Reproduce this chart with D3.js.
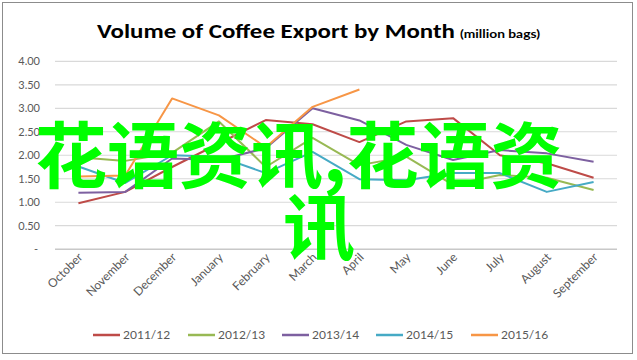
<!DOCTYPE html>
<html>
<head>
<meta charset="utf-8">
<script src="https://cdn.jsdelivr.net/npm/d3@7"></script>
<style>
  html, body { margin: 0; padding: 0; background: #fff; }
  svg { display: block; }
</style>
</head>
<body>
<svg id="chart" width="637" height="360"></svg>
<script>
const months = ["October","November","December","January","February","March","April","May","June","July","August","September"];
const seriesNames = ["2011/12","2012/13","2013/14","2014/15","2015/16"];
const s2011 = [0.98,1.22,1.75,2.25,2.75,2.66,2.28,2.72,2.79,2.00,1.83,1.52];
const s2012 = [1.96,1.88,2.05,2.72,1.75,2.37,1.79,1.97,1.37,1.58,1.52,1.26];
const s2013 = [1.20,1.22,1.93,1.90,2.15,3.00,2.74,2.22,1.90,2.11,2.04,1.86];
const s2014 = [1.76,1.41,2.00,1.97,1.62,2.07,1.49,1.47,1.62,1.62,1.22,1.43];
const s2015 = [1.55,1.57,3.21,2.85,2.17,3.03,3.40,null,null,null,null,null];
const yTicks = [0,0.5,1,1.5,2,2.5,3,3.5,4];
const colors = ["#BE4B48","#98B954","#7D60A0","#46AAC5","#F79646"];
const allSeries = [s2011,s2012,s2013,s2014,s2015];

const svg = d3.select("#chart");
const font = "Lato, 'Open Sans', sans-serif";

// outer border
svg.append("rect").attr("x",2.5).attr("y",2.5).attr("width",630).attr("height",351)
  .attr("fill","#fff").attr("stroke","#8c8c8c").attr("stroke-width",1);

// title
const title = svg.append("text").attr("x",97).attr("y",38)
  .attr("font-family","Calibri, Lato, sans-serif").attr("font-weight","bold")
  .attr("font-size",21).attr("fill","#000");
title.append("tspan").text("Volume of Coffee Export by Month")
  .attr("textLength",358).attr("lengthAdjust","spacingAndGlyphs");
svg.append("text").attr("x",460).attr("y",38)
  .attr("font-family",font).attr("font-weight","bold").attr("font-size",10.5)
  .attr("fill","#000").text("(million bags)")
  .attr("textLength",80).attr("lengthAdjust","spacingAndGlyphs");

const x = d3.scalePoint().domain(months).range([55,617]).padding(0.5);
const y = d3.scaleLinear().domain([0,4]).range([249.2,61.3]);

// gridlines
svg.append("g").selectAll("line").data(yTicks).join("line")
  .attr("x1",55).attr("x2",617)
  .attr("y1",d=>y(d)).attr("y2",d=>y(d))
  .attr("stroke", d => d===0 ? "#c8c8c8" : "#d9d9d9").attr("stroke-width", d=> d===0 ? 1.5 : 1.2);

// y labels
svg.append("g").selectAll("text").data(yTicks).join("text")
  .attr("x", d => d===0 ? 38 : 40).attr("y",d=>y(d)+4)
  .attr("text-anchor","end").attr("font-family",font).attr("font-size",11)
  .attr("fill","#595959").text(d => d===0 ? "-" : d3.format(".2f")(d));

// x labels
svg.append("g").selectAll("text").data(months).join("text")
  .attr("transform", d => `translate(${x(d)+5},${258}) rotate(-45)`)
  .attr("text-anchor","end").attr("font-family",font).attr("font-size",12)
  .attr("fill","#595959").text(d=>d);

// lines
const line = d3.line().defined(d => d.v !== null).x(d => x(d.m)).y(d => y(d.v));
allSeries.forEach((s,i) => {
  const pts = s.map((v,j) => ({m: months[j], v}));
  svg.append("path").datum(pts).attr("d",line).attr("fill","none")
    .attr("stroke",colors[i]).attr("stroke-width",2).attr("stroke-linejoin","round");
});

// legend
const legX = [93,188,282,376,471];
const leg = svg.append("g");
seriesNames.forEach((n,i) => {
  leg.append("line").attr("x1",legX[i]).attr("x2",legX[i]+27).attr("y1",335).attr("y2",335)
    .attr("stroke",colors[i]).attr("stroke-width",2.5);
  leg.append("text").attr("x",legX[i]+30).attr("y",339).attr("font-family",font)
    .attr("font-size",12).attr("fill","#595959").text(n);
});

// overlay text
const cjk = "'Noto Sans CJK SC', sans-serif";
svg.append("text").attr("x",35).attr("y",182).attr("font-family",cjk).attr("font-weight","bold")
  .attr("font-size",72).attr("fill","#00FF00").text("花语资讯,花语资");
svg.append("text").attr("x",283).attr("y",254).attr("font-family",cjk).attr("font-weight","bold")
  .attr("font-size",72).attr("fill","#00FF00").text("讯");
</script>
</body>
</html>
